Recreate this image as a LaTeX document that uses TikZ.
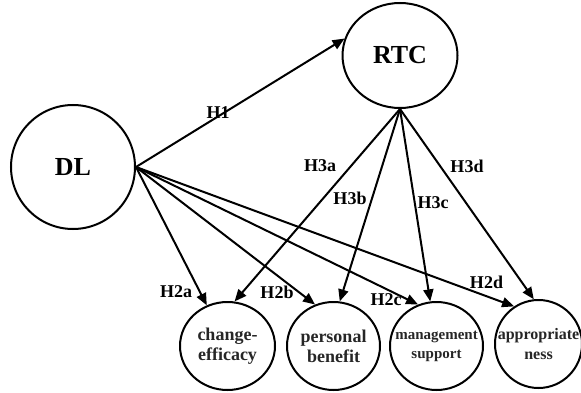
\documentclass[tikz,border=0pt]{standalone}
\usepackage{fontspec}
\setmainfont{Liberation Serif}
\usetikzlibrary{arrows.meta,shapes.geometric}

\tikzset{
  construct/.style={draw, ellipse, line width=2pt, inner sep=-30pt, align=center,
                    font=\bfseries, text=black!85},
  path/.style={line width=2pt, -{Triangle[length=12pt,width=10pt]}},
  hyp/.style={font=\fontsize{18}{20}\selectfont\bfseries, inner sep=0pt}
}

\begin{document}
\begin{tikzpicture}[x=1pt,y=-1pt]
\useasboundingbox (0,0) rectangle (581,393);

% latent constructs
\node[construct, minimum width=124pt, minimum height=124pt,
      font=\fontsize{26}{28}\selectfont\bfseries, text=black] (DL) at (73,167) {DL};
\node[construct, minimum width=115pt, minimum height=105pt,
      font=\fontsize{26}{28}\selectfont\bfseries, text=black] (RTC) at (400,55.5) {RTC};

% dimensions of readiness
\node[construct, minimum width=95pt, minimum height=88pt,
      font=\fontsize{18}{20}\selectfont\bfseries] (CE) at (227.5,346) {change-\\efficacy};
\node[construct, minimum width=93pt, minimum height=88pt,
      font=\fontsize{18}{20}\selectfont\bfseries] (PB) at (333.5,346) {personal\\benefit};
\node[construct, minimum width=93pt, minimum height=88pt,
      font=\fontsize{15}{19}\selectfont\bfseries] (MS) at (436.5,346) {management\\support};
\node[construct, minimum width=87pt, minimum height=88pt,
      font=\fontsize{16}{20}\selectfont\bfseries] (AP) at (538.5,344) {appropriate\\ness};

% hypothesised paths
\draw[path] (DL.east) -- (RTC.163);
\draw[path] (DL.east) -- (CE.117);
\draw[path] (DL.east) -- (PB.114);
\draw[path] (DL.east) -- (MS.114);
\draw[path] (DL.east) -- (AP.123);
\draw[path] (RTC.south) -- (CE.81);
\draw[path] (RTC.south) -- (PB.82);
\draw[path] (RTC.south) -- (MS.98);
\draw[path] (RTC.south) -- (AP.96);

% path labels
\node[hyp] (h1)  at (218,113) {H1};
\node[hyp] (h3a) at (320,166) {H3a};
\node[hyp] (h3b) at (350,198) {H3b};
\node[hyp] (h3c) at (433,203) {H3c};
\node[hyp] (h3d) at (467,166) {H3d};
\node[hyp] (h2a) at (176,292) {H2a};
\node[hyp] (h2b) at (277,292) {H2b};
\node[hyp] (h2c) at (386,300) {H2c};
\node[hyp] (h2d) at (486.5,282) {H2d};
\end{tikzpicture}
\end{document}
